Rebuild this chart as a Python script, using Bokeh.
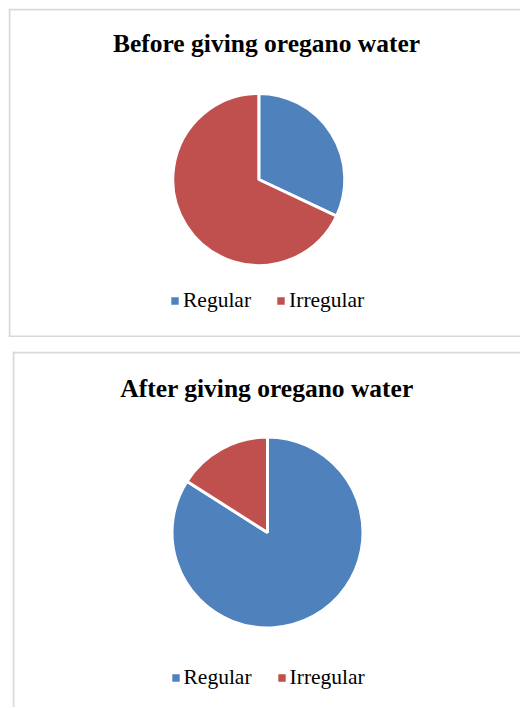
import numpy as np
from bokeh.plotting import figure
from bokeh.models import Range1d, Span, Legend, LegendItem, ColumnDataSource
from bokeh.layouts import column
from bokeh.embed import file_html
from bokeh.resources import INLINE
from bokeh.core.properties import value

# ---- data ----
categories = ["Regular", "Irregular"]
colors = ["#4F81BD", "#C0504D"]
before_values = [32, 68]
after_values = [84, 16]
titles = ["Before giving oregano water", "After giving oregano water"]

FONT = "Liberation Serif"
BORDER = "#D9D9D9"


def make_panel(title, values, W, H, cx, cy, r, tx, ty, leg_loc, borders):
    p = figure(width=W, height=H, x_range=Range1d(0, W), y_range=Range1d(0, H),
               output_backend="svg", toolbar_location=None, min_border=0,
               x_axis_location=None, y_axis_location=None)
    p.grid.visible = False
    p.outline_line_color = None
    p.background_fill_color = "white"
    p.border_fill_color = "white"

    vals = np.array(values, dtype=float)
    ang = vals / vals.sum() * 2 * np.pi
    cum = np.cumsum(ang)
    start = np.pi / 2 - np.concatenate([[0.0], cum[:-1]])
    end = np.pi / 2 - cum
    src = ColumnDataSource(dict(cat=categories, start=start, end=end, color=colors))
    wr = p.wedge(x=cx, y=cy, radius=r, start_angle="start", end_angle="end",
                 direction="clock", fill_color="color", line_color="white",
                 line_width=3, source=src)

    p.text(x=[tx], y=[ty], text=[title], text_font=value(FONT),
           text_font_size="25.5px", text_font_style="bold", text_color="black",
           text_align="center", text_baseline="alphabetic")

    items = [LegendItem(label=categories[i], renderers=[wr], index=i) for i in range(len(categories))]
    leg = Legend(items=items, orientation="horizontal", location=leg_loc,
                 border_line_color=None, background_fill_alpha=0, padding=0, margin=0,
                 glyph_width=13, glyph_height=13, label_standoff=2, spacing=23,
                 label_text_font=FONT, label_text_font_size="21.5px", label_text_color="black")
    p.add_layout(leg, "center")

    for dim, loc in borders:
        p.add_layout(Span(location=loc, dimension=dim, line_color=BORDER, line_width=2))
    return p


p1 = make_panel(titles[0], before_values, 512, 329, 250.3, 158, 86, 258, 294, (160, 24),
                [("height", 1), ("width", 328), ("width", 1)])
p1.margin = (8, 0, 0, 8)
p2 = make_panel(titles[1], after_values, 508, 356, 255, 175, 95.5, 254.5, 319, (156.5, 17),
                [("height", 1), ("width", 355)])
p2.margin = (14, 0, 0, 12)

layout = column(p1, p2, spacing=0)
open("out.html", "w").write(file_html(layout, INLINE))
